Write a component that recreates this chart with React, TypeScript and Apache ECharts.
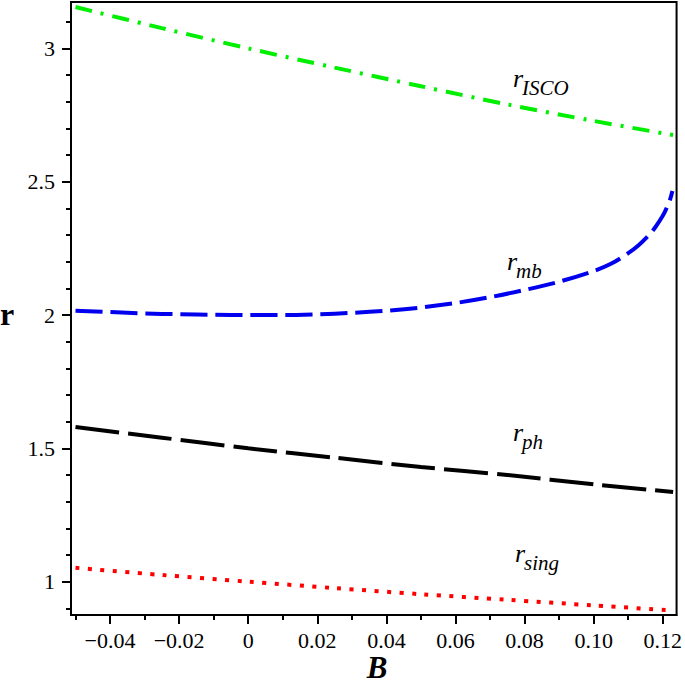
import React, { useEffect, useRef } from "react";
import * as echarts from "echarts";

// ---- data ----
const B_LIN = [-0.05, -0.025, 0, 0.025, 0.05, 0.075, 0.1, 0.123];
const R_ISCO = [3.155, 3.076, 3.0, 2.928, 2.858, 2.79, 2.728, 2.675];
const R_PH = [1.58, 1.54, 1.5, 1.465, 1.43, 1.4, 1.365, 1.336];
const R_SING = [1.052, 1.025, 1.0, 0.976, 0.953, 0.932, 0.911, 0.892];
const B_MB = [
  -0.05, -0.04, -0.03, -0.02, -0.01, 0, 0.01, 0.02, 0.03, 0.04, 0.05, 0.06, 0.07,
  0.08, 0.09, 0.1, 0.105, 0.11, 0.113, 0.116, 0.118, 0.12, 0.121, 0.122, 0.1228,
];
const R_MB = [
  2.016, 2.011, 2.006, 2.003, 2.001, 2.0, 2.0, 2.003, 2.008, 2.016, 2.028, 2.045,
  2.067, 2.094, 2.125, 2.165, 2.192, 2.232, 2.262, 2.3, 2.332, 2.372, 2.398, 2.428,
  2.465,
];

const X_MAJOR = [-0.04, -0.02, 0, 0.02, 0.04, 0.06, 0.08, 0.1, 0.12];
const X_MINOR = [-0.05, -0.04, -0.03, -0.02, -0.01, 0, 0.01, 0.02, 0.03, 0.04, 0.05, 0.06, 0.07, 0.08, 0.09, 0.1, 0.11, 0.12];
const Y_MAJOR = [1, 1.5, 2, 2.5, 3];
const Y_MINOR = [0.9, 1, 1.1, 1.2, 1.3, 1.4, 1.5, 1.6, 1.7, 1.8, 1.9, 2, 2.1, 2.2, 2.3, 2.4, 2.5, 2.6, 2.7, 2.8, 2.9, 3, 3.1];

const CURVE_LABELS = [
  { main: "r", sub: "ISCO", x: 513, y: 78 },
  { main: "r", sub: "mb", x: 507, y: 261 },
  { main: "r", sub: "ph", x: 513, y: 432 },
  { main: "r", sub: "sing", x: 515, y: 553 },
];

const SERIF = "Liberation Serif";

const pairs = (xs: number[], ys: number[]) => xs.map((x, i) => [x, ys[i]]);

export default function App() {
  const ref = useRef<HTMLDivElement>(null);
  useEffect(() => {
    document.body.style.margin = "0";
    const chart = echarts.init(ref.current!, undefined, { renderer: "svg" });
    const X_MIN = -0.0513;
    const X_MAX = 0.124;
    const Y_MIN = 0.875;
    const Y_MAX = 3.174;
    const fmtX = (v: number) =>
      Math.abs(v) < 1e-9 ? "0" : v < 0 ? "\u2212" + Math.abs(v).toFixed(2) : v.toFixed(2);
    const fmtY = (v: number) => String(Math.round(v * 10) / 10);

    const graphic: any[] = [];
    CURVE_LABELS.forEach((l) => {
      graphic.push({
        type: "text",
        x: l.x,
        y: l.y,
        style: {
          text: l.main,
          font: `italic 26px ${SERIF}`,
          fill: "#000",
          textVerticalAlign: "middle",
          textAlign: "left",
        },
      });
      graphic.push({
        type: "text",
        x: l.x + 9,
        y: l.y + 10,
        style: {
          text: l.sub,
          font: `italic 21px ${SERIF}`,
          fill: "#000",
          textVerticalAlign: "middle",
          textAlign: "left",
        },
      });
    });
    graphic.push({
      type: "text",
      x: 377,
      y: 667,
      style: {
        text: "B",
        font: `italic bold 31px ${SERIF}`,
        fill: "#000",
        textAlign: "center",
        textVerticalAlign: "middle",
      },
    });
    graphic.push({
      type: "text",
      x: 0,
      y: 314,
      style: {
        text: "r",
        font: `bold 32px ${SERIF}`,
        fill: "#000",
        textAlign: "left",
        textVerticalAlign: "middle",
      },
    });

    const tickStyle = { color: "#000", width: 2 };
    const labelStyle = {
      color: "#000",
      fontSize: 22,
      fontFamily: SERIF,
      fontWeight: "normal",
      fontStyle: "normal",
    };
    chart.setOption({
      animation: false,
      backgroundColor: "#fff",
      textStyle: { fontFamily: SERIF, color: "#000" },
      grid: {
        left: 71,
        right: 5,
        top: 2,
        bottom: 70,
        show: true,
        borderColor: "#000",
        borderWidth: 2,
        containLabel: false,
      },
      xAxis: [
        {
          type: "value",
          min: X_MIN,
          max: X_MAX,
          position: "bottom",
          axisLine: { show: true, onZero: false, lineStyle: tickStyle },
          axisTick: { show: true, customValues: X_MAJOR, length: 9, lineStyle: tickStyle },
          axisLabel: {
            customValues: X_MAJOR,
            formatter: fmtX,
            margin: 14,
            ...labelStyle,
          },
          splitLine: { show: false },
        },
        {
          type: "value",
          min: X_MIN,
          max: X_MAX,
          position: "bottom",
          offset: 0,
          axisLine: { show: false, onZero: false },
          axisTick: { show: true, customValues: X_MINOR, length: 5, lineStyle: tickStyle },
          axisLabel: { show: false },
          splitLine: { show: false },
        },
      ],
      yAxis: [
        {
          type: "value",
          min: Y_MIN,
          max: Y_MAX,
          position: "left",
          axisLine: { show: true, onZero: false, lineStyle: tickStyle },
          axisTick: { show: true, customValues: Y_MAJOR, length: 9, lineStyle: tickStyle },
          axisLabel: {
            customValues: Y_MAJOR,
            formatter: fmtY,
            margin: 16,
            ...labelStyle,
          },
          splitLine: { show: false },
        },
        {
          type: "value",
          min: Y_MIN,
          max: Y_MAX,
          position: "left",
          offset: 0,
          axisLine: { show: false, onZero: false },
          axisTick: { show: true, customValues: Y_MINOR, length: 5, lineStyle: tickStyle },
          axisLabel: { show: false },
          splitLine: { show: false },
        },
      ],
      series: [
        {
          name: "r_ISCO",
          type: "line",
          data: pairs(B_LIN, R_ISCO),
          smooth: 0.3,
          showSymbol: false,
          lineStyle: { color: "#00ee00", width: 4, type: [17, 9, 3, 9] },
        },
        {
          name: "r_mb",
          type: "line",
          data: pairs(B_MB, R_MB),
          smooth: 0.3,
          showSymbol: false,
          lineStyle: { color: "#0000ee", width: 4, type: [27, 8] },
        },
        {
          name: "r_ph",
          type: "line",
          data: pairs(B_LIN, R_PH),
          smooth: 0.3,
          showSymbol: false,
          lineStyle: { color: "#000", width: 4, type: [44, 9] },
        },
        {
          name: "r_sing",
          type: "line",
          data: pairs(B_LIN, R_SING),
          smooth: 0.3,
          showSymbol: false,
          lineStyle: { color: "#ff0000", width: 4, type: [4, 8.5] },
        },
      ],
      graphic,
    });
    return () => chart.dispose();
  }, []);
  return (
    <div
      ref={ref}
      style={{ position: "fixed", left: 0, top: 0, width: 685, height: 685 }}
    />
  );
}
